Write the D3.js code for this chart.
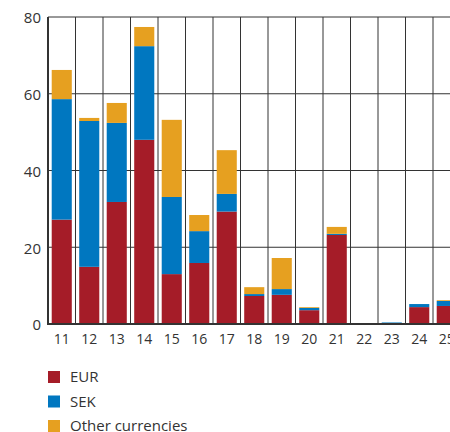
<!DOCTYPE html>
<html>
<head>
<meta charset="utf-8">
<script src="https://cdn.jsdelivr.net/npm/d3@7"></script>
<style>
  body { margin: 0; background: #fff; overflow: hidden; }
  svg { display: block; font-family: "Open Sans", "Noto Sans", sans-serif; }
</style>
</head>
<body>
<svg id="chart" width="450" height="432"></svg>
<script>
// years (20xx) on the x axis
const years = ["11", "12", "13", "14", "15", "16", "17", "18", "19", "20", "21", "22", "23", "24", "25"];
const eur   = [27.2, 14.9, 31.8, 48.0, 13.0, 15.9, 29.3, 7.3, 7.6, 3.6, 23.2, 0.0, 0.1, 4.4, 4.7];
const sek   = [31.4, 38.0, 20.6, 24.4, 20.1, 8.3, 4.6, 0.5, 1.5, 0.6, 0.3, 0.0, 0.3, 0.8, 1.3];
const other = [7.6, 0.8, 5.2, 5.0, 20.1, 4.2, 11.4, 1.8, 8.1, 0.2, 1.8, 0.2, 0.0, 0.0, 0.2];
const yTicks = [0, 20, 40, 60, 80];

const seriesNames = ["EUR", "SEK", "Other currencies"];
const colors = ["#a51c28", "#0077c0", "#e6a020"];

const rows = years.map((y, i) => ({ year: y, EUR: eur[i], SEK: sek[i], "Other currencies": other[i] }));

const margin = { top: 17, left: 48 };
const plotW = 412.5, plotH = 307;

const svg = d3.select("#chart");
const g = svg.append("g").attr("transform", `translate(${margin.left},${margin.top})`);

const x = d3.scaleBand().domain(years).range([0, plotW]).paddingInner(0.27).paddingOuter(0.135);
const step = plotW / years.length;
const y = d3.scaleLinear().domain([0, 80]).range([plotH, 0]);

// horizontal grid
g.selectAll(".hgrid").data(yTicks.slice(1)).enter().append("line")
  .attr("x1", 0).attr("x2", 410)
  .attr("y1", d => y(d)).attr("y2", d => y(d))
  .attr("stroke", "#333").attr("stroke-width", 1);

// vertical grid at category boundaries
g.selectAll(".vgrid").data(d3.range(years.length + 1)).enter().append("line")
  .attr("x1", d => d * step).attr("x2", d => d * step)
  .attr("y1", 0).attr("y2", plotH)
  .attr("stroke", "#333").attr("stroke-width", 1);

const stack = d3.stack().keys(seriesNames)(rows);

g.selectAll(".layer").data(stack).enter().append("g")
  .attr("fill", (d, i) => colors[i])
  .selectAll("rect").data(d => d).enter().append("rect")
  .attr("x", d => x(d.data.year))
  .attr("width", x.bandwidth())
  .attr("y", d => y(d[1]))
  .attr("height", d => y(d[0]) - y(d[1]));

// axes lines
g.append("line").attr("x1", 0).attr("x2", 410).attr("y1", plotH).attr("y2", plotH)
  .attr("stroke", "#333").attr("stroke-width", 2);
g.append("line").attr("x1", 0).attr("x2", 0).attr("y1", 0).attr("y2", plotH + 1)
  .attr("stroke", "#333").attr("stroke-width", 2);

// y labels
g.selectAll(".ylab").data(yTicks).enter().append("text")
  .attr("x", -7).attr("y", d => y(d) + 1)
  .attr("dy", "0.35em")
  .attr("text-anchor", "end")
  .attr("font-size", 15).attr("fill", "#333")
  .text(d => d);

// x labels
g.selectAll(".xlab").data(years).enter().append("text")
  .attr("x", d => x(d) + x.bandwidth() / 2)
  .attr("y", plotH + 15)
  .attr("dy", "0.35em")
  .attr("text-anchor", "middle")
  .attr("font-size", 14).attr("fill", "#333")
  .text(d => d);

// legend
const legend = svg.append("g").attr("transform", "translate(48,371)");
seriesNames.forEach((name, i) => {
  const row = legend.append("g").attr("transform", `translate(0,${i * 24.5})`);
  row.append("rect").attr("width", 12).attr("height", 12).attr("fill", colors[i]);
  row.append("text").attr("x", 22).attr("y", 6).attr("dy", "0.35em")
    .attr("font-size", 15).attr("fill", "#333").text(name);
});
</script>
</body>
</html>
